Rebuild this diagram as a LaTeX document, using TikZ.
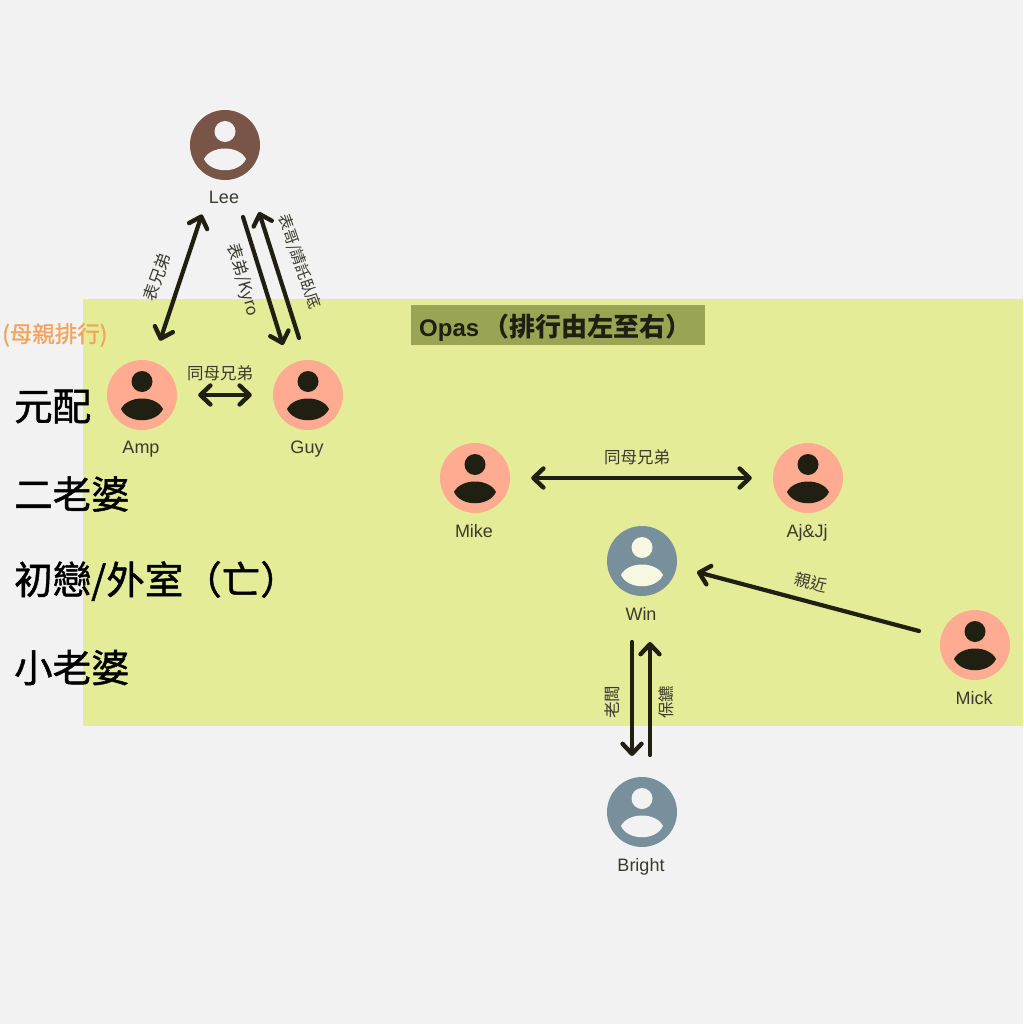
\documentclass[tikz,border=0pt]{standalone}
\usepackage{fontspec}
\setmainfont{Liberation Sans}
\newfontfamily\cjk{Noto Sans CJK TC}
\newfontfamily\cjkmed[FakeBold=1.2]{Noto Sans CJK TC}
\usetikzlibrary{arrows.meta,positioning}
\definecolor{pagebg}{HTML}{F2F2F2}
\definecolor{bandgreen}{HTML}{E4EC98}
\definecolor{titlegreen}{HTML}{9AA553}
\definecolor{brownface}{HTML}{795548}
\definecolor{salmonface}{HTML}{FFAB91}
\definecolor{slateface}{HTML}{78909C}
\definecolor{darkicon}{HTML}{1F1F12}
\definecolor{paleicon}{HTML}{F7F7E2}
\definecolor{labelgrey}{HTML}{3A3A30}
\definecolor{rankorange}{HTML}{F2A35E}
\tikzset{
    face/.style={circle,minimum size=70pt,inner sep=0pt},
    namelabel/.style={text=labelgrey,font=\fontsize{18}{20}\selectfont,inner sep=0pt},
    rellabel/.style={text=labelgrey,font=\cjk\fontsize{16.5}{18}\selectfont,inner sep=0pt},
    ranklabel/.style={anchor=west,inner sep=0pt,text=black,font=\cjkmed\fontsize{38.5}{42}\selectfont},
    barb/.tip={Straight Barb[length=10pt,width=19pt,line width=4.4pt,round]},
    rel/.style={draw=darkicon,line width=4.2pt,line cap=round,{barb}-{barb}},
    relone/.style={draw=darkicon,line width=4.2pt,line cap=round,-{barb}}
}
\begin{document}
\begin{tikzpicture}[x=1pt,y=-1pt]
    \useasboundingbox (0,0) rectangle (1023,1024);
    \fill[pagebg] (0,0) rectangle (1023,1024);
    \fill[bandgreen] (83,299) rectangle (1023,726);
    \fill[titlegreen] (411,305) rectangle (705,345);
    \node[anchor=west,inner sep=0pt,text=darkicon,font=\bfseries\fontsize{24}{28}\selectfont] (opas) at (419,328) {Opas\hspace{4pt}\cjk\fontsize{26}{28}\selectfont（排行由左至右）};
    \node[anchor=west,inner sep=0pt,text=rankorange,font=\cjkmed\fontsize{22.5}{24}\selectfont] (rank) at (2,335) {(母親排行)};
    \node[ranklabel] (first) at (14,406.5) {元配};
    \node[ranklabel] (second) at (14,494) {二老婆};
    \node[ranklabel] (dead) at (14,581) {初戀/外室（亡）};
    \node[ranklabel] (third) at (14,667.5) {小老婆};
    % people
    \foreach \id/\x/\y/\bg/\fg/\who in {lee/225/145/brownface/pagebg/Lee,
        amp/142/395/salmonface/darkicon/Amp,guy/308/395/salmonface/darkicon/Guy,
        mike/475/478/salmonface/darkicon/Mike,aj/808/478/salmonface/darkicon/Aj\&Jj,
        win/642/561/slateface/paleicon/Win,mick/975/645/salmonface/darkicon/Mick,
        bright/642/812/slateface/pagebg/Bright} {
        \node[face,fill=\bg] (\id) at (\x,\y) {};
        \fill[\fg] (\x,\y-13.5) circle[radius=10.5];
        \fill[\fg] (\x-21,\y+14) .. controls (\x-14,\y) and (\x+14,\y) .. (\x+21,\y+14)
            .. controls (\x+14,\y+29) and (\x-14,\y+29) .. cycle;
        \node[namelabel,below=11pt of \id,xshift=-1pt] (\id name) {\who};
    }
    % connectors
    \draw[rel,shorten <=22pt,shorten >=38pt] (amp) -- (lee);
    \draw[rel,shorten <=21pt,shorten >=21pt] (amp) -- (guy);
    \draw[relone] ([shift={(18,72)}]lee.center) -- ([shift={(-25,-50)}]guy.center);
    \draw[relone] ([shift={(-9,-57)}]guy.center) -- ([shift={(34,67)}]lee.center);
    \draw[rel,shorten <=21pt,shorten >=21pt] (mike) -- (aj);
    \draw[relone] ([shift={(-56,-14)}]mick.center) -- ([shift={(55,11)}]win.center);
    \draw[relone] ([shift={(-10,81)}]win.center) -- ([shift={(-10,-56)}]bright.center);
    \draw[relone] ([shift={(8,-57)}]bright.center) -- ([shift={(8,81)}]win.center);
    % relation labels
    \node[rellabel,rotate=70] (cousins) at (157,277) {表兄弟};
    \node[rellabel] (sameA) at (220,373) {同母兄弟};
    \node[rellabel,rotate=-74] (kyro) at (243,280) {表弟/Kyro};
    \node[rellabel,rotate=-71,font=\cjk\fontsize{15.5}{18}\selectfont] (spy) at (299,262) {表哥/請託臥底};
    \node[rellabel] (sameB) at (637,457) {同母兄弟};
    \node[rellabel,rotate=-14] (close) at (811,582) {親近};
    \node[rellabel,rotate=90] (boss) at (612,702) {老闆};
    \node[rellabel,rotate=90] (guard) at (666,702) {保鑣};
\end{tikzpicture}
\end{document}
